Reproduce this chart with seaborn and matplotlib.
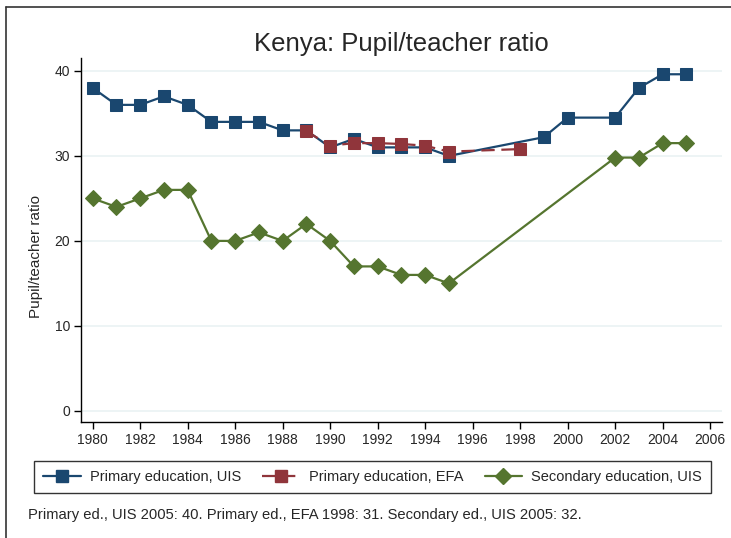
import numpy as np
import pandas as pd
import matplotlib
matplotlib.use('Agg')
import matplotlib.pyplot as plt
from matplotlib.lines import Line2D
import seaborn as sns

# ── Data ──────────────────────────────────────────────────────────────────────
uis_years = [1980, 1981, 1982, 1983, 1984, 1985, 1986, 1987, 1988, 1989, 1990,
             1991, 1992, 1993, 1994, 1995, 1999, 2000, 2002, 2003, 2004, 2005]
uis_primary = [38, 36, 36, 37, 36, 34, 34, 34, 33, 33, 31,
               32, 31, 31, 31, 30, 32.2, 34.5, 34.5, 38, 39.6, 39.6]

efa_years = [1989, 1990, 1991, 1992, 1993, 1994, 1995, 1998]
efa_primary = [32.9, 31.2, 31.5, 31.5, 31.4, 31.2, 30.5, 30.8]

sec_years = [1980, 1981, 1982, 1983, 1984, 1985, 1986, 1987, 1988, 1989, 1990,
             1991, 1992, 1993, 1994, 1995, 2002, 2003, 2004, 2005]
uis_secondary = [25, 24, 25, 26, 26, 20, 20, 21, 20, 22, 20,
                 17, 17, 16, 16, 15, 29.8, 29.8, 31.5, 31.5]

labels = ['Primary education, UIS', 'Primary education, EFA', 'Secondary education, UIS']
colors = ['#1a476f', '#90353b', '#55752f']
x_ticks = list(range(1980, 2007, 2))
y_ticks = [0, 10, 20, 30, 40]
note = 'Primary ed., UIS 2005: 40. Primary ed., EFA 1998: 31. Secondary ed., UIS 2005: 32.'

# ── Plot ──────────────────────────────────────────────────────────────────────
sns.set_style('white')
plt.rcParams['font.family'] = ['Liberation Sans', 'DejaVu Sans']

fig = plt.figure(figsize=(7.31, 5.38), dpi=100)
ax = fig.add_axes([0.1108, 0.2156, 0.8769, 0.6764])

for y in y_ticks:
    ax.axhline(y, color='#eaf2f3', lw=1.2, zorder=0)

sns.lineplot(x=uis_years, y=uis_primary, ax=ax, color=colors[0], marker='s',
             markersize=8.5, markeredgecolor=colors[0], lw=1.6, zorder=3)
sns.lineplot(x=efa_years, y=efa_primary, ax=ax, color=colors[1], marker='s',
             markersize=8.5, markeredgecolor=colors[1], lw=1.6,
             linestyle=(0, (6, 3)), zorder=4)
sns.lineplot(x=sec_years, y=uis_secondary, ax=ax, color=colors[2], marker='D',
             markersize=8.5, markeredgecolor=colors[2], lw=1.6, zorder=3)

ax.set_xlim(1979.51, 2006.5)
ax.set_ylim(-1.3, 41.5)
ax.set_xticks(x_ticks)
ax.set_yticks(y_ticks)
ax.tick_params(axis='both', direction='out', length=5, width=1, labelsize=10,
               color='black', pad=3, left=True, bottom=True)
for s in ['top', 'right']:
    ax.spines[s].set_visible(False)
for s in ['left', 'bottom']:
    ax.spines[s].set_color('black')
    ax.spines[s].set_linewidth(1)
ax.set_xlabel('')
ax.set_ylabel('Pupil/teacher ratio', fontsize=11)
ax.yaxis.set_label_coords(-0.06, 0.456)
ax.set_title('Kenya: Pupil/teacher ratio', fontsize=18.5, pad=5)

handles = [
    Line2D([], [], color=colors[0], marker='s', markersize=8.5, lw=1.6),
    Line2D([], [], color=colors[1], marker='s', markersize=8.5, lw=1.6, linestyle=(0, (6, 3))),
    Line2D([], [], color=colors[2], marker='D', markersize=8.5, lw=1.6),
]
leg = fig.legend(handles, labels, loc='center', ncol=3, frameon=True, fancybox=False,
                 edgecolor='black', fontsize=10.5, handlelength=2.6, handletextpad=0.6,
                 columnspacing=2.4,
                 bbox_to_anchor=(0.0369, 0.082, 0.9453, 0.062), mode='expand',
                 borderpad=0.6)
leg.get_frame().set_linewidth(1)

fig.text(0.038, 0.043, note, fontsize=10.6, va='center', ha='left')

# outer frame (top and left edges visible)
fig.add_artist(Line2D([0.008, 1.0], [0.987, 0.987], color='#333333', lw=1.2,
                      transform=fig.transFigure))
fig.add_artist(Line2D([0.008, 0.008], [0.0, 0.987], color='#333333', lw=1.2,
                      transform=fig.transFigure))

fig.savefig('out.png', dpi=100, facecolor='white')
